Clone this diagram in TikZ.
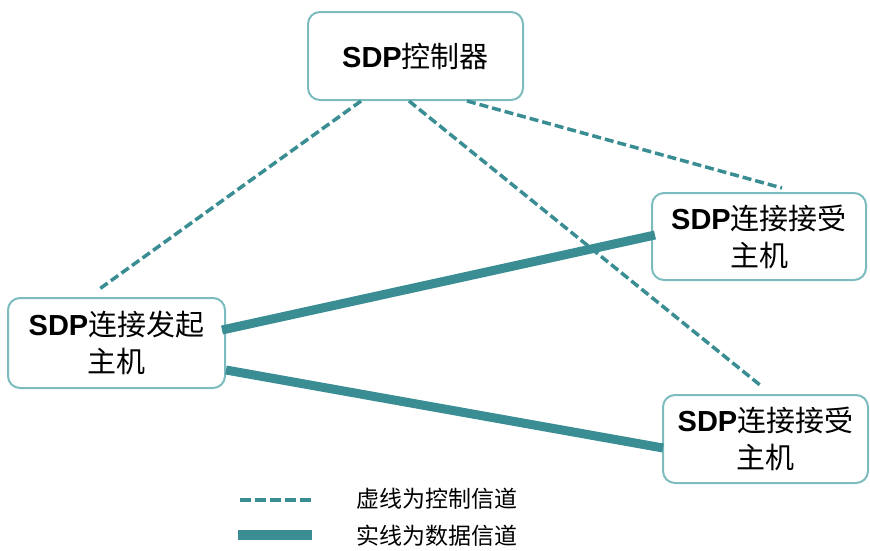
\documentclass[tikz,border=0pt]{standalone}
\usepackage{fontspec}
\setmainfont{Liberation Sans}
\newfontfamily\cjk{Noto Sans CJK SC}
\definecolor{boxline}{RGB}{125,188,190}
\definecolor{channel}{RGB}{58,142,147}
\newcommand{\sdp}{{\bfseries SDP}}
\begin{document}
\begin{tikzpicture}[x=1pt,y=-1pt,
  hostbox/.style={draw=boxline,line width=2pt,rounded corners=12pt,fill=white,
    align=center,inner sep=0pt,font=\fontsize{29}{37}\selectfont},
  ctl/.style={draw=channel,line width=3.5pt,dash pattern=on 9pt off 4pt},
  data/.style={draw=channel,line width=9pt},
  legendtext/.style={anchor=west,inner sep=0pt,font=\cjk\fontsize{23}{23}\selectfont}]
\useasboundingbox (0,0) rectangle (870,550);

% hosts and controller
\node[hostbox,minimum width=215pt,minimum height=88pt] (ctrl) at (415.5,56) {\sdp{\cjk 控制器}};
\node[hostbox,minimum width=217pt,minimum height=90pt] (init) at (116.5,343) {\sdp{\cjk 连接发起}\\{\cjk 主机}};
\node[hostbox,minimum width=214pt,minimum height=87pt] (recA) at (759,236.5) {\sdp{\cjk 连接接受}\\{\cjk 主机}};
\node[hostbox,minimum width=205pt,minimum height=88pt] (recB) at (765.5,439) {\sdp{\cjk 连接接受}\\{\cjk 主机}};

% free ends of the control channels
\coordinate (endI) at (98,290);
\coordinate (endB) at (760,385);
\coordinate (endA) at (782,188);

% control channels
\draw[ctl] ([xshift=54pt]ctrl.south west) -- (endI);
\draw[ctl] ([xshift=102pt]ctrl.south west) -- (endB);
\draw[ctl] ([xshift=160pt]ctrl.south west) -- (endA);

% data channels
\draw[data] ([yshift=13pt,xshift=-4pt]init.east) -- ([yshift=1.5pt,xshift=4pt]recA.west);
\draw[data] ([yshift=-27pt]init.east) -- ([yshift=-9pt,xshift=1pt]recB.west);

% legend
\coordinate (lgA1) at (240,500);
\coordinate (lgA2) at (312,500);
\coordinate (lgB1) at (238,535);
\coordinate (lgB2) at (312,535);
\draw[ctl,dash pattern=on 11pt off 4pt] (lgA1) -- (lgA2);
\draw[data,line width=10pt] (lgB1) -- (lgB2);
\node[legendtext] (lgtA) at (356,499) {虚线为控制信道};
\node[legendtext] (lgtB) at (356,536) {实线为数据信道};
\end{tikzpicture}
\end{document}
